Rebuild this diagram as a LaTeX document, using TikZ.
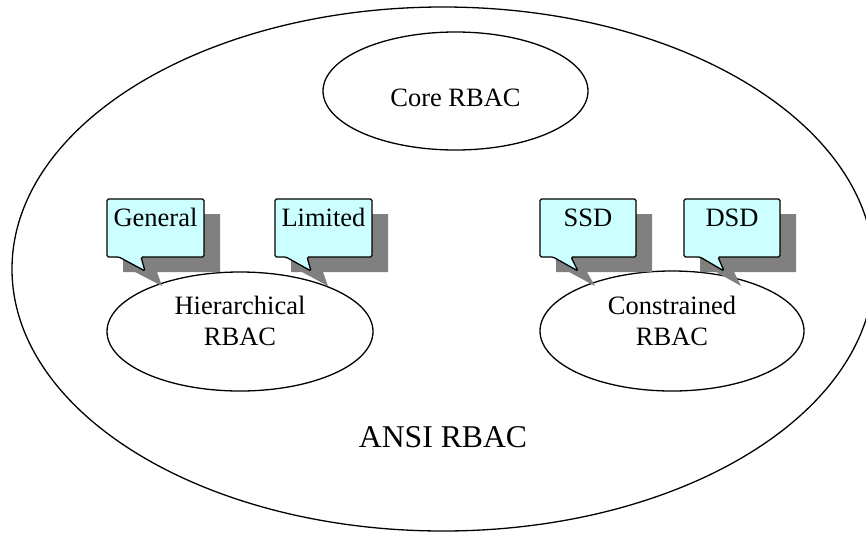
\documentclass[tikz,border=0pt]{standalone}
\usepackage{fontspec}
\setmainfont{Liberation Serif}
\begin{document}
\begin{tikzpicture}[x=1pt,y=-1pt,
  lbl/.style={font=\fontsize{26.5}{31}\selectfont, inner sep=0pt, anchor=base},
  ellline/.style={line width=1.3pt, fill=white},
  boxfill/.style={fill={rgb,255:red,204;green,255;blue,255}, draw=black, line width=1.3pt, rounded corners=1.5pt},
  shadowfill/.style={fill={rgb,255:red,128;green,128;blue,128}, draw=none}]
\useasboundingbox (0,0) rectangle (866,533);
% outer ellipse
\draw[line width=1.3pt] (443,269) ellipse [x radius=431, y radius=262];
\node[lbl, font=\fontsize{31.7}{36}\selectfont] (ansi) at (443,447) {ANSI RBAC};
% inner ellipses
\draw[ellline] (455.5,91) ellipse [x radius=132.5, y radius=59];
\node[lbl] (core) at (455.5,106) {Core RBAC};
\draw[ellline] (240,331.5) ellipse [x radius=133, y radius=59.5];
\node[lbl] (hier) at (240,314) {Hierarchical};
\node[lbl] (hier2) at (240,345) {RBAC};
\draw[ellline] (672,331) ellipse [x radius=132, y radius=60];
\node[lbl] (cons) at (672,314) {Constrained};
\node[lbl] (cons2) at (672,345) {RBAC};
% callouts: shadows
\foreach \xa/\xb/\ba/\bb/\tx in {107/204/119/141/145, 275/372/286/307/311, 540/636/553/571/578, 684/780/700/718/724}{
  \fill[shadowfill, shift={(16,15)}] (\xa,199) -- (\xb,199) -- (\xb,257) -- (\bb,257) -- (\tx+1,271) -- (\ba,257) -- (\xa,257) -- cycle;
}
\foreach \xa/\xb/\ba/\bb/\tx in {107/204/119/141/145, 275/372/286/307/311, 540/636/553/571/578, 684/780/700/718/724}{
  \draw[boxfill] (\xa,199) -- (\xb,199) -- (\xb,257) -- (\bb,257) -- (\tx,271) -- (\ba,257) -- (\xa,257) -- cycle;
}
\node[lbl] (general) at (155.5,226) {General};
\node[lbl] (limited) at (323.5,226) {Limited};
\node[lbl] (ssd) at (588,226) {SSD};
\node[lbl] (dsd) at (732,226) {DSD};
\end{tikzpicture}
\end{document}
